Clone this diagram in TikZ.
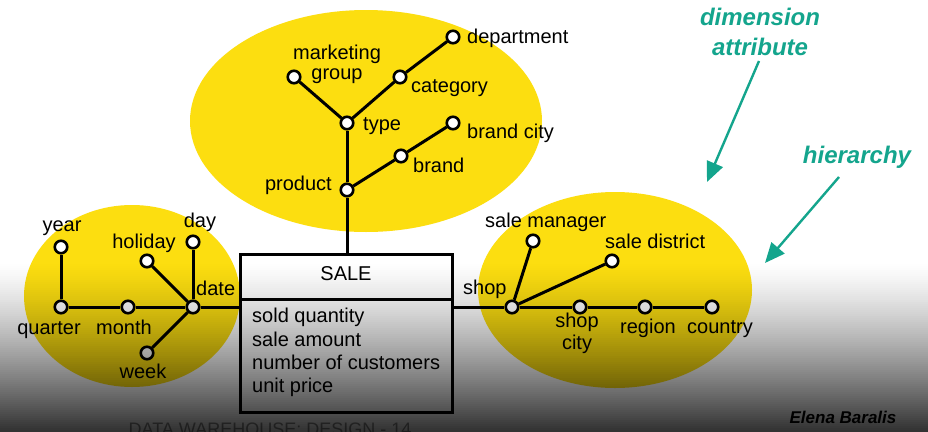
\documentclass[tikz,border=0pt]{standalone}
\usepackage{fontspec}
\setmainfont{Liberation Sans}
\usetikzlibrary{arrows.meta}
\definecolor{dimyellow}{HTML}{FCDE10}
\definecolor{annteal}{HTML}{14A58D}
\newcommand\lbfont{\fontsize{20}{23}\selectfont}
\newcommand\notefont{\fontsize{24}{28}\selectfont\bfseries\itshape}
\begin{document}
\begin{tikzpicture}[x=1pt,y=-1pt,
  attr/.style={circle, draw=black, line width=2.6pt, fill=white, minimum size=12.5pt, inner sep=0pt},
  conn/.style={line width=3pt, draw=black},
  lbl/.style={font=\lbfont, inner sep=0pt},
  note/.style={font=\notefont, text=annteal, inner sep=0pt, anchor=base},
  notearrow/.style={draw=annteal, line width=2.4pt, -{Triangle[length=20pt,width=17pt]}},
  factbox/.style={draw=black, line width=3pt, fill=white, minimum width=212pt, minimum height=158pt, inner sep=0pt}
]
\fill[white] (0,0) rectangle (928,431);
\useasboundingbox (0,0) rectangle (928,431);

% dimension ellipses
\fill[dimyellow] (366,121) ellipse [x radius=176, y radius=111];
\fill[dimyellow] (132,296) ellipse [x radius=108, y radius=91];
\fill[dimyellow] (615,290) ellipse [x radius=137, y radius=98];

% fact box
\node[factbox] (sale) at (346,333) {};
\coordinate (divl) at (240,299);
\coordinate (divr) at (452,299);
\draw[conn] (divl) -- (divr);
\node[lbl] (saletitle) at (346,274) {SALE};
\node[lbl, anchor=base west] (m1) at (252,322) {sold quantity};
\node[lbl, anchor=base west] (m2) at (252,346) {sale amount};
\node[lbl, anchor=base west] (m3) at (252,369) {number of customers};
\node[lbl, anchor=base west] (m4) at (252,392) {unit price};

% time dimension
\node[attr] (date) at (193,307) {};
\node[attr] (year) at (61,247) {};
\node[attr] (quarter) at (61,307) {};
\node[attr] (month) at (128,307) {};
\node[attr] (holiday) at (147,261) {};
\node[attr] (day) at (193,242) {};
\node[attr] (week) at (147,353) {};
\draw[conn] (year) -- (quarter);
\draw[conn] (quarter) -- (month);
\draw[conn] (month) -- (date);
\draw[conn] (holiday) -- (date);
\draw[conn] (day) -- (date);
\draw[conn] (week) -- (date);
\draw[conn] (date) -- (date -| sale.west);
\node[lbl, anchor=base] (lyear) at (62,231) {year};
\node[lbl, anchor=base] (lholiday) at (144,248) {holiday};
\node[lbl, anchor=base] (lday) at (200,227) {day};
\node[lbl, anchor=base west] (ldate) at (196,295) {date};
\node[lbl, anchor=base] (lquarter) at (49,334) {quarter};
\node[lbl, anchor=base] (lmonth) at (124,334) {month};
\node[lbl, anchor=base] (lweek) at (143,378) {week};

% product dimension
\node[attr] (product) at (347,190) {};
\node[attr] (type) at (347,123) {};
\node[attr] (mgroup) at (294,77) {};
\node[attr] (category) at (400,77) {};
\node[attr] (department) at (453,37) {};
\node[attr] (brand) at (401,156) {};
\node[attr] (brandcity) at (453,123) {};
\draw[conn] (product) -- (product |- sale.north);
\draw[conn] (product) -- (type);
\draw[conn] (type) -- (mgroup);
\draw[conn] (type) -- (category);
\draw[conn] (category) -- (department);
\draw[conn] (product) -- (brand);
\draw[conn] (brand) -- (brandcity);
\node[lbl, anchor=base] (lmarketing) at (337,59) {marketing};
\node[lbl, anchor=base] (lgroup) at (337,79) {group};
\node[lbl, anchor=base west] (ldepartment) at (467,43) {department};
\node[lbl, anchor=base west] (lcategory) at (411,92) {category};
\node[lbl, anchor=base west] (ltype) at (363,130) {type};
\node[lbl, anchor=base west] (lbrandcity) at (467,138) {brand city};
\node[lbl, anchor=base west] (lbrand) at (413,172) {brand};
\node[lbl, anchor=base east] (lproduct) at (332,190) {product};

% shop dimension
\node[attr] (shop) at (512,307) {};
\node[attr] (salemanager) at (533,241) {};
\node[attr] (saledistrict) at (612,261) {};
\node[attr] (shopcity) at (580,307) {};
\node[attr] (region) at (645,307) {};
\node[attr] (country) at (712,307) {};
\draw[conn] (sale.east |- shop) -- (shop);
\draw[conn] (shop) -- (salemanager);
\draw[conn] (shop) -- (saledistrict);
\draw[conn] (shop) -- (shopcity);
\draw[conn] (shopcity) -- (region);
\draw[conn] (region) -- (country);
\node[lbl, anchor=base west] (lsalemanager) at (485,227) {sale manager};
\node[lbl, anchor=base west] (lsaledistrict) at (605,248) {sale district};
\node[lbl, anchor=base west] (lshop) at (463,294) {shop};
\node[lbl, anchor=base] (lshopcity1) at (577,327) {shop};
\node[lbl, anchor=base] (lshopcity2) at (577,349) {city};
\node[lbl, anchor=base west] (lregion) at (620,333) {region};
\node[lbl, anchor=base west] (lcountry) at (687,333) {country};

% annotations
\node[note] (ndim) at (760,25) {dimension};
\node[note] (nattr) at (760,55) {attribute};
\node[note] (nhier) at (857,163) {hierarchy};
\coordinate (dimtip) at (707,182);
\coordinate (hiertip) at (765,263);
\draw[notearrow] (759,61) -- (dimtip);
\draw[notearrow] (839,177) -- (hiertip);

% footer text (partly below the frame, as in the reference)
\node[font=\fontsize{18}{20}\selectfont, text=black!45, anchor=base] (footer) at (270,435) {DATA WAREHOUSE: DESIGN - 14};

% darkening gradient at the bottom
\foreach \i in {0,...,84} {
  \pgfmathsetmacro\yy{262+2*\i}
  \pgfmathsetmacro\op{min(0.8,0.78*((\yy+1-262)/165)^1.3)}
  \fill[black, opacity=\op] (0,\yy) rectangle (928,\yy+2.2);
}

\node[font=\fontsize{17}{20}\selectfont\bfseries\itshape, text=black, anchor=base] (author) at (843,423) {Elena Baralis};
\end{tikzpicture}
\end{document}
